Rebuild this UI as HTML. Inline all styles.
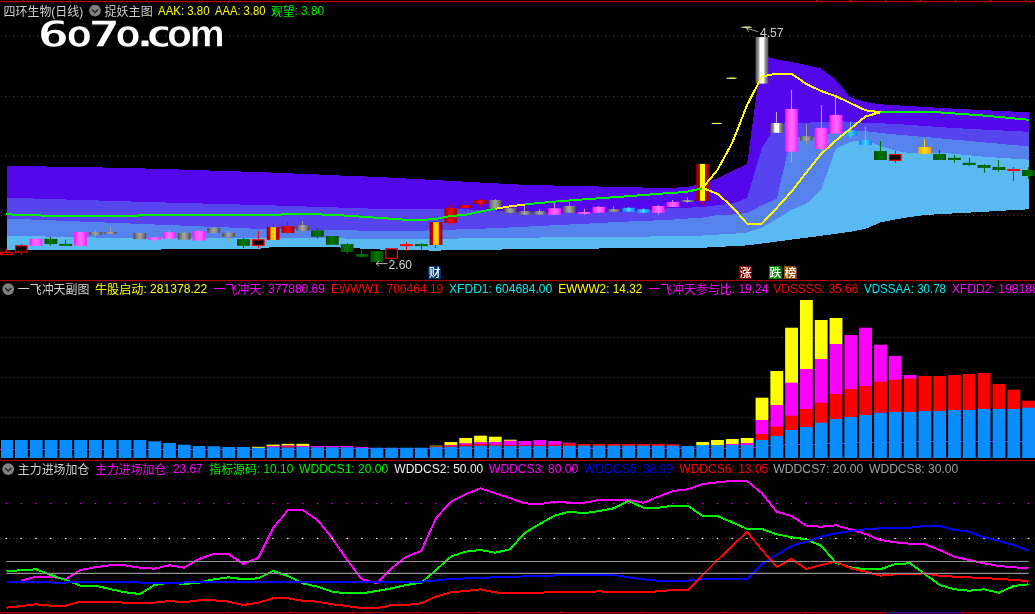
<!DOCTYPE html>
<html lang="zh"><head><meta charset="utf-8"><title>四环生物(日线)</title>
<style>html,body{margin:0;padding:0;background:#000;overflow:hidden}svg{display:block}</style>
</head><body>
<svg width="1035" height="614" viewBox="0 0 1035 614">
<defs>
<linearGradient id="gm" x1="0" x2="1" y1="0" y2="0"><stop offset="0" stop-color="#fa10fa"/><stop offset=".3" stop-color="#ff58ff"/><stop offset=".5" stop-color="#ff6cff"/><stop offset=".7" stop-color="#ff58ff"/><stop offset="1" stop-color="#fa18fa"/></linearGradient>
<linearGradient id="gy" x1="0" x2="1" y1="0" y2="0"><stop offset="0" stop-color="#4c4c4c"/><stop offset=".3" stop-color="#8c8c8c"/><stop offset=".5" stop-color="#a4a4a4"/><stop offset=".7" stop-color="#8c8c8c"/><stop offset="1" stop-color="#4c4c4c"/></linearGradient>
<linearGradient id="gg" x1="0" x2="1" y1="0" y2="0"><stop offset="0" stop-color="#004c00"/><stop offset=".3" stop-color="#006a00"/><stop offset=".5" stop-color="#007400"/><stop offset=".7" stop-color="#006a00"/><stop offset="1" stop-color="#004c00"/></linearGradient>
<linearGradient id="gr" x1="0" x2="1" y1="0" y2="0"><stop offset="0" stop-color="#9c0000"/><stop offset=".3" stop-color="#d40808"/><stop offset=".5" stop-color="#e81010"/><stop offset=".7" stop-color="#d40808"/><stop offset="1" stop-color="#9c0000"/></linearGradient>
<linearGradient id="gc" x1="0" x2="1" y1="0" y2="0"><stop offset="0" stop-color="#0a80ff"/><stop offset=".3" stop-color="#30b0ff"/><stop offset=".5" stop-color="#40d8ff"/><stop offset=".7" stop-color="#30b0ff"/><stop offset="1" stop-color="#0a80ff"/></linearGradient>
<linearGradient id="gw" x1="0" x2="1" y1="0" y2="0"><stop offset="0" stop-color="#505050"/><stop offset=".28" stop-color="#a8a8a8"/><stop offset=".34" stop-color="#ffffff"/><stop offset=".66" stop-color="#ffffff"/><stop offset=".72" stop-color="#a8a8a8"/><stop offset="1" stop-color="#505050"/></linearGradient>
<linearGradient id="go" x1="0" x2="1" y1="0" y2="0"><stop offset="0" stop-color="#ff9800"/><stop offset=".35" stop-color="#ffd000"/><stop offset=".5" stop-color="#ffe400"/><stop offset=".65" stop-color="#ffd000"/><stop offset="1" stop-color="#ff9800"/></linearGradient>
<linearGradient id="gro" x1="0" x2="1" y1="0" y2="0"><stop offset="0" stop-color="#960000"/><stop offset=".28" stop-color="#c80000"/><stop offset=".31" stop-color="#ffcc00"/><stop offset=".69" stop-color="#ffcc00"/><stop offset=".72" stop-color="#c80000"/><stop offset="1" stop-color="#960000"/></linearGradient>
<linearGradient id="gry" x1="0" x2="1" y1="0" y2="0"><stop offset="0" stop-color="#960000"/><stop offset=".28" stop-color="#c00000"/><stop offset=".31" stop-color="#ffff00"/><stop offset=".69" stop-color="#ffff00"/><stop offset=".72" stop-color="#c00000"/><stop offset="1" stop-color="#960000"/></linearGradient>
</defs>
<rect width="1035" height="614" fill="#000"/>
<line x1="1.00" y1="36.5" x2="1035.0" y2="36.5" stroke="#c80000" stroke-width="1.0" stroke-dasharray="1.1 2.90"/>
<line x1="1.00" y1="96.5" x2="1035.0" y2="96.5" stroke="#c80000" stroke-width="1.0" stroke-dasharray="1.1 2.90"/>
<line x1="1.00" y1="155.5" x2="1035.0" y2="155.5" stroke="#c80000" stroke-width="1.0" stroke-dasharray="1.1 2.90"/>
<line x1="1.00" y1="215.5" x2="1035.0" y2="215.5" stroke="#c80000" stroke-width="1.0" stroke-dasharray="1.1 2.90"/>
<line x1="1.00" y1="337.5" x2="1035.0" y2="337.5" stroke="#c80000" stroke-width="1.0" stroke-dasharray="1.1 2.90"/>
<line x1="1.00" y1="377.5" x2="1035.0" y2="377.5" stroke="#c80000" stroke-width="1.0" stroke-dasharray="1.1 2.90"/>
<line x1="1.00" y1="417.5" x2="1035.0" y2="417.5" stroke="#c80000" stroke-width="1.0" stroke-dasharray="1.1 2.90"/>
<line x1="1.00" y1="538.5" x2="1035.0" y2="538.5" stroke="#c80000" stroke-width="1.0" stroke-dasharray="1.1 2.90"/>
<polygon shape-rendering="crispEdges" fill="#5507ec" points="6.5,165.8 21.3,166.1 36.1,166.3 50.9,166.6 65.7,166.9 80.5,167.1 95.3,167.4 110.1,167.6 124.9,167.9 139.8,168.3 154.6,168.8 169.4,169.2 184.2,169.7 199.0,170.2 213.8,170.6 228.6,171.1 243.4,171.6 258.3,172.0 273.1,172.7 287.9,173.3 302.7,173.9 317.5,174.5 332.3,175.2 347.1,175.8 361.9,176.4 376.8,177.0 391.6,177.7 406.4,178.5 421.2,179.3 436.0,180.1 450.8,180.9 465.6,181.7 480.4,182.5 495.2,183.3 510.1,184.2 524.9,184.8 539.7,185.2 554.5,185.5 569.3,185.8 584.1,186.2 598.9,186.5 613.7,186.9 628.6,187.2 643.4,187.5 658.2,187.8 673.0,187.9 687.8,186.7 702.6,184.0 717.4,178.3 732.2,171.0 747.1,164.0 761.9,55.0 776.7,59.5 791.5,62.0 806.3,65.0 821.1,68.5 835.9,80.0 850.7,97.5 865.5,102.0 880.4,104.3 895.2,105.2 910.0,106.1 924.8,107.0 939.6,107.8 954.4,108.7 969.2,109.4 984.0,110.2 998.9,110.9 1013.7,111.6 1028.5,112.4 1028.5,209.3 1013.7,210.1 998.9,210.9 984.0,211.8 969.2,212.6 954.4,213.4 939.6,214.2 924.8,215.0 910.0,217.0 895.2,219.5 880.4,222.4 865.5,228.9 850.7,231.8 835.9,233.8 821.1,235.8 806.3,237.7 791.5,239.6 776.7,241.6 761.9,243.5 747.1,245.4 732.2,246.2 717.4,247.0 702.6,247.7 687.8,248.4 673.0,248.2 658.2,248.1 643.4,248.1 628.6,248.2 613.7,248.3 598.9,248.5 584.1,248.6 569.3,248.7 554.5,248.9 539.7,249.0 524.9,249.2 510.1,249.4 495.2,249.6 480.4,249.9 465.6,250.1 450.8,250.3 436.0,250.6 421.2,250.4 406.4,250.1 391.6,249.9 376.8,249.4 361.9,248.6 347.1,247.8 332.3,247.2 317.5,247.1 302.7,247.1 287.9,247.1 273.1,247.0 258.3,248.8 243.4,248.8 228.6,248.9 213.8,249.0 199.0,249.2 184.2,249.3 169.4,249.4 154.6,249.6 139.8,249.7 124.9,249.8 110.1,249.8 95.3,249.7 80.5,249.7 65.7,249.6 50.9,249.6 36.1,249.6 21.3,249.5 6.5,249.5"/>
<polygon shape-rendering="crispEdges" fill="#5644ee" points="6.5,197.7 21.3,198.2 36.1,198.6 50.9,199.1 65.7,199.5 80.5,200.0 95.3,200.4 110.1,200.9 124.9,201.3 139.8,201.8 154.6,202.2 169.4,202.6 184.2,203.0 199.0,203.4 213.8,203.8 228.6,204.2 243.4,204.6 258.3,205.0 273.1,205.4 287.9,205.9 302.7,206.4 317.5,206.9 332.3,207.3 347.1,207.8 361.9,208.3 376.8,208.8 391.6,209.2 406.4,208.8 421.2,208.5 436.0,208.5 450.8,209.0 465.6,209.4 480.4,209.9 495.2,210.5 510.1,211.4 524.9,212.2 539.7,212.7 554.5,213.0 569.3,213.3 584.1,213.2 598.9,212.7 613.7,212.3 628.6,211.4 643.4,210.2 658.2,209.0 673.0,208.1 687.8,207.7 702.6,207.0 717.4,205.2 732.2,203.6 747.1,198.2 761.9,148.0 776.7,124.0 791.5,123.0 806.3,122.6 821.1,122.2 835.9,121.0 850.7,121.8 865.5,122.8 880.4,123.3 895.2,123.9 910.0,124.9 924.8,126.0 939.6,127.1 954.4,128.1 969.2,128.8 984.0,129.6 998.9,130.3 1013.7,131.0 1028.5,131.8 1028.5,209.3 1013.7,210.1 998.9,210.9 984.0,211.8 969.2,212.6 954.4,213.4 939.6,214.2 924.8,215.0 910.0,217.0 895.2,219.5 880.4,222.4 865.5,228.9 850.7,231.8 835.9,233.8 821.1,235.8 806.3,237.7 791.5,239.6 776.7,241.6 761.9,243.5 747.1,245.4 732.2,246.2 717.4,247.0 702.6,247.7 687.8,248.4 673.0,248.2 658.2,248.1 643.4,248.1 628.6,248.2 613.7,248.3 598.9,248.5 584.1,248.6 569.3,248.7 554.5,248.9 539.7,249.0 524.9,249.2 510.1,249.4 495.2,249.6 480.4,249.9 465.6,250.1 450.8,250.3 436.0,250.6 421.2,250.4 406.4,250.1 391.6,249.9 376.8,249.4 361.9,248.6 347.1,247.8 332.3,247.2 317.5,247.1 302.7,247.1 287.9,247.1 273.1,247.0 258.3,248.8 243.4,248.8 228.6,248.9 213.8,249.0 199.0,249.2 184.2,249.3 169.4,249.4 154.6,249.6 139.8,249.7 124.9,249.8 110.1,249.8 95.3,249.7 80.5,249.7 65.7,249.6 50.9,249.6 36.1,249.6 21.3,249.5 6.5,249.5"/>
<polygon shape-rendering="crispEdges" fill="#5682ee" points="6.5,218.5 21.3,219.1 36.1,219.7 50.9,220.3 65.7,220.9 80.5,221.5 95.3,222.1 110.1,222.7 124.9,223.3 139.8,223.9 154.6,224.5 169.4,225.1 184.2,225.7 199.0,226.3 213.8,226.9 228.6,227.5 243.4,228.2 258.3,228.9 273.1,229.3 287.9,229.4 302.7,229.5 317.5,229.7 332.3,229.8 347.1,230.2 361.9,230.6 376.8,231.0 391.6,230.9 406.4,230.8 421.2,230.7 436.0,230.2 450.8,229.7 465.6,229.2 480.4,228.7 495.2,228.2 510.1,227.4 524.9,226.7 539.7,226.0 554.5,225.3 569.3,224.5 584.1,223.8 598.9,223.0 613.7,222.2 628.6,221.5 643.4,220.9 658.2,220.3 673.0,219.6 687.8,218.5 702.6,217.5 717.4,215.2 732.2,214.5 747.1,213.0 761.9,205.2 776.7,199.0 791.5,135.5 806.3,138.5 821.1,135.5 835.9,132.5 850.7,130.8 865.5,131.0 880.4,133.0 895.2,134.4 910.0,135.7 924.8,137.0 939.6,138.3 954.4,139.7 969.2,141.0 984.0,142.4 998.9,143.7 1013.7,145.1 1028.5,146.5 1028.5,209.3 1013.7,210.1 998.9,210.9 984.0,211.8 969.2,212.6 954.4,213.4 939.6,214.2 924.8,215.0 910.0,217.0 895.2,219.5 880.4,222.4 865.5,228.9 850.7,231.8 835.9,233.8 821.1,235.8 806.3,237.7 791.5,239.6 776.7,241.6 761.9,243.5 747.1,245.4 732.2,246.2 717.4,247.0 702.6,247.7 687.8,248.4 673.0,248.2 658.2,248.1 643.4,248.1 628.6,248.2 613.7,248.3 598.9,248.5 584.1,248.6 569.3,248.7 554.5,248.9 539.7,249.0 524.9,249.2 510.1,249.4 495.2,249.6 480.4,249.9 465.6,250.1 450.8,250.3 436.0,250.6 421.2,250.4 406.4,250.1 391.6,249.9 376.8,249.4 361.9,248.6 347.1,247.8 332.3,247.2 317.5,247.1 302.7,247.1 287.9,247.1 273.1,247.0 258.3,248.8 243.4,248.8 228.6,248.9 213.8,249.0 199.0,249.2 184.2,249.3 169.4,249.4 154.6,249.6 139.8,249.7 124.9,249.8 110.1,249.8 95.3,249.7 80.5,249.7 65.7,249.6 50.9,249.6 36.1,249.6 21.3,249.5 6.5,249.5"/>
<polygon shape-rendering="crispEdges" fill="#58baf0" points="6.5,235.7 21.3,236.0 36.1,236.3 50.9,236.6 65.7,236.9 80.5,237.2 95.3,237.5 110.1,237.8 124.9,238.1 139.8,238.2 154.6,238.2 169.4,238.3 184.2,238.3 199.0,238.3 213.8,238.3 228.6,238.4 243.4,238.4 258.3,238.4 273.1,238.3 287.9,238.2 302.7,238.2 317.5,238.1 332.3,238.0 347.1,238.6 361.9,239.3 376.8,239.2 391.6,239.1 406.4,239.0 421.2,238.9 436.0,238.7 450.8,238.6 465.6,238.4 480.4,238.3 495.2,238.1 510.1,237.9 524.9,237.7 539.7,237.5 554.5,237.3 569.3,237.1 584.1,237.0 598.9,236.9 613.7,236.8 628.6,236.7 643.4,236.6 658.2,236.4 673.0,236.3 687.8,236.0 702.6,235.5 717.4,234.6 732.2,233.8 747.1,232.6 761.9,227.6 776.7,219.0 791.5,209.8 806.3,203.6 821.1,189.7 835.9,148.5 850.7,141.8 865.5,139.8 880.4,146.0 895.2,150.5 910.0,153.3 924.8,153.4 939.6,152.8 954.4,153.7 969.2,155.2 984.0,156.7 998.9,157.7 1013.7,158.7 1028.5,159.7 1028.5,209.3 1013.7,210.1 998.9,210.9 984.0,211.8 969.2,212.6 954.4,213.4 939.6,214.2 924.8,215.0 910.0,217.0 895.2,219.5 880.4,222.4 865.5,228.9 850.7,231.8 835.9,233.8 821.1,235.8 806.3,237.7 791.5,239.6 776.7,241.6 761.9,243.5 747.1,245.4 732.2,246.2 717.4,247.0 702.6,247.7 687.8,248.4 673.0,248.2 658.2,248.1 643.4,248.1 628.6,248.2 613.7,248.3 598.9,248.5 584.1,248.6 569.3,248.7 554.5,248.9 539.7,249.0 524.9,249.2 510.1,249.4 495.2,249.6 480.4,249.9 465.6,250.1 450.8,250.3 436.0,250.6 421.2,250.4 406.4,250.1 391.6,249.9 376.8,249.4 361.9,248.6 347.1,247.8 332.3,247.2 317.5,247.1 302.7,247.1 287.9,247.1 273.1,247.0 258.3,248.8 243.4,248.8 228.6,248.9 213.8,249.0 199.0,249.2 184.2,249.3 169.4,249.4 154.6,249.6 139.8,249.7 124.9,249.8 110.1,249.8 95.3,249.7 80.5,249.7 65.7,249.6 50.9,249.6 36.1,249.6 21.3,249.5 6.5,249.5"/>
<line x1="6.5" y1="249.0" x2="6.5" y2="251.7" stroke="#f00" stroke-width="1.1"/>
<line x1="6.5" y1="255.1" x2="6.5" y2="255.1" stroke="#f00" stroke-width="1.1"/>
<rect x="0.6" y="252.3" width="11.6" height="2.2" fill="#000" stroke="#f00" stroke-width="1.2"/>
<line x1="21.5" y1="243.9" x2="21.5" y2="245.2" stroke="#f00" stroke-width="1.1"/>
<line x1="21.5" y1="252.7" x2="21.5" y2="255.0" stroke="#f00" stroke-width="1.1"/>
<rect x="15.5" y="245.8" width="11.6" height="6.3" fill="#000" stroke="#f00" stroke-width="1.2"/>
<line x1="36.5" y1="236.4" x2="36.5" y2="245.8" stroke="#d088ff" stroke-width="1.1"/>
<rect x="29.7" y="238.9" width="12.8" height="6.9" fill="url(#gm)"/>
<line x1="50.5" y1="237.0" x2="50.5" y2="245.8" stroke="#007000" stroke-width="1.1"/>
<rect x="44.5" y="238.9" width="12.8" height="5.2" fill="url(#gg)"/>
<line x1="65.5" y1="239.9" x2="65.5" y2="245.8" stroke="#007000" stroke-width="1.1"/>
<rect x="59.3" y="243.9" width="12.8" height="1.9" fill="url(#gg)"/>
<rect x="74.1" y="232.0" width="12.8" height="13.8" fill="url(#gm)"/>
<line x1="95.5" y1="229.8" x2="95.5" y2="237.0" stroke="#9a9a9a" stroke-width="1.1"/>
<rect x="88.9" y="232.0" width="12.8" height="3.1" fill="url(#gy)"/>
<line x1="110.5" y1="226.9" x2="110.5" y2="234.1" stroke="#9a9a9a" stroke-width="1.1"/>
<rect x="103.7" y="232.0" width="12.8" height="2.1" fill="url(#gy)"/>
<line x1="139.5" y1="231.7" x2="139.5" y2="240.0" stroke="#9a9a9a" stroke-width="1.1"/>
<rect x="133.4" y="232.9" width="12.8" height="6.3" fill="url(#gy)"/>
<line x1="154.5" y1="236.8" x2="154.5" y2="242.5" stroke="#d088ff" stroke-width="1.1"/>
<rect x="148.2" y="237.4" width="12.8" height="2.3" fill="url(#gm)"/>
<line x1="169.5" y1="230.4" x2="169.5" y2="238.7" stroke="#d088ff" stroke-width="1.1"/>
<rect x="163.0" y="232.2" width="12.8" height="6.5" fill="url(#gm)"/>
<line x1="184.5" y1="231.2" x2="184.5" y2="239.7" stroke="#9a9a9a" stroke-width="1.1"/>
<rect x="177.8" y="232.9" width="12.8" height="6.8" fill="url(#gy)"/>
<line x1="199.5" y1="229.9" x2="199.5" y2="240.5" stroke="#d088ff" stroke-width="1.1"/>
<rect x="192.6" y="230.9" width="12.8" height="9.6" fill="url(#gm)"/>
<line x1="213.5" y1="226.9" x2="213.5" y2="233.4" stroke="#9a9a9a" stroke-width="1.1"/>
<rect x="207.4" y="227.9" width="12.8" height="5.0" fill="url(#gy)"/>
<line x1="228.5" y1="231.0" x2="228.5" y2="241.7" stroke="#9a9a9a" stroke-width="1.1"/>
<rect x="222.2" y="232.9" width="12.8" height="4.0" fill="url(#gy)"/>
<line x1="243.5" y1="238.0" x2="243.5" y2="247.9" stroke="#007000" stroke-width="1.1"/>
<rect x="237.0" y="239.2" width="12.8" height="6.6" fill="url(#gg)"/>
<line x1="258.5" y1="231.2" x2="258.5" y2="239.2" stroke="#f00" stroke-width="1.1"/>
<line x1="258.5" y1="245.9" x2="258.5" y2="247.9" stroke="#f00" stroke-width="1.1"/>
<rect x="252.5" y="239.8" width="11.6" height="5.5" fill="#000" stroke="#f00" stroke-width="1.2"/>
<line x1="273.5" y1="224.2" x2="273.5" y2="239.9" stroke="#e00000" stroke-width="1.1"/>
<rect x="266.7" y="227.1" width="12.8" height="12.8" fill="url(#gro)"/>
<line x1="287.5" y1="222.1" x2="287.5" y2="233.4" stroke="#e00000" stroke-width="1.1"/>
<rect x="281.5" y="226.1" width="12.8" height="6.8" fill="url(#gr)"/>
<line x1="302.5" y1="221.0" x2="302.5" y2="232.9" stroke="#9a9a9a" stroke-width="1.1"/>
<rect x="296.3" y="225.1" width="12.8" height="5.6" fill="url(#gy)"/>
<line x1="317.5" y1="228.0" x2="317.5" y2="238.7" stroke="#007000" stroke-width="1.1"/>
<rect x="311.1" y="230.3" width="12.8" height="6.4" fill="url(#gg)"/>
<rect x="325.9" y="236.1" width="12.8" height="8.7" fill="url(#gg)"/>
<line x1="347.5" y1="242.9" x2="347.5" y2="253.8" stroke="#007000" stroke-width="1.1"/>
<rect x="340.7" y="244.1" width="12.8" height="7.8" fill="url(#gg)"/>
<line x1="361.5" y1="249.2" x2="361.5" y2="256.9" stroke="#007000" stroke-width="1.1"/>
<rect x="355.5" y="254.0" width="12.8" height="2.9" fill="url(#gg)"/>
<rect x="370.4" y="251.1" width="12.8" height="10.8" fill="url(#gg)"/>
<line x1="391.5" y1="248.2" x2="391.5" y2="248.2" stroke="#f00" stroke-width="1.1"/>
<line x1="391.5" y1="258.8" x2="391.5" y2="259.8" stroke="#f00" stroke-width="1.1"/>
<rect x="385.8" y="248.8" width="11.6" height="9.4" fill="#000" stroke="#f00" stroke-width="1.2"/>
<line x1="406.5" y1="242.2" x2="406.5" y2="250.9" stroke="#ff0000" stroke-width="1.1"/>
<rect x="400.0" y="244.1" width="12.8" height="2.0" fill="#ff0000"/>
<line x1="421.5" y1="243.2" x2="421.5" y2="249.6" stroke="#007000" stroke-width="1.1"/>
<rect x="414.8" y="244.1" width="12.8" height="2.0" fill="url(#gg)"/>
<line x1="435.5" y1="221.5" x2="435.5" y2="248.0" stroke="#e00000" stroke-width="1.1"/>
<rect x="429.6" y="222.0" width="12.8" height="23.0" fill="url(#gro)"/>
<line x1="450.5" y1="205.0" x2="450.5" y2="225.0" stroke="#e00000" stroke-width="1.1"/>
<rect x="444.4" y="208.0" width="12.8" height="15.0" fill="url(#gr)"/>
<line x1="465.5" y1="200.9" x2="465.5" y2="211.0" stroke="#e00000" stroke-width="1.1"/>
<rect x="459.2" y="205.0" width="12.8" height="3.0" fill="url(#gr)"/>
<line x1="480.5" y1="199.0" x2="480.5" y2="207.0" stroke="#e00000" stroke-width="1.1"/>
<rect x="474.0" y="200.0" width="12.8" height="4.0" fill="url(#gr)"/>
<line x1="495.5" y1="199.0" x2="495.5" y2="208.5" stroke="#9a9a9a" stroke-width="1.1"/>
<rect x="488.8" y="200.0" width="12.8" height="8.5" fill="url(#gy)"/>
<line x1="510.5" y1="207.3" x2="510.5" y2="213.6" stroke="#9a9a9a" stroke-width="1.1"/>
<rect x="503.7" y="208.2" width="12.8" height="4.6" fill="url(#gy)"/>
<line x1="524.5" y1="205.6" x2="524.5" y2="214.7" stroke="#9a9a9a" stroke-width="1.1"/>
<rect x="518.5" y="211.1" width="12.8" height="3.6" fill="url(#gy)"/>
<line x1="539.5" y1="209.1" x2="539.5" y2="214.7" stroke="#9a9a9a" stroke-width="1.1"/>
<rect x="533.3" y="211.1" width="12.8" height="3.6" fill="url(#gy)"/>
<line x1="554.5" y1="202.3" x2="554.5" y2="214.7" stroke="#d088ff" stroke-width="1.1"/>
<rect x="548.1" y="208.2" width="12.8" height="6.5" fill="url(#gm)"/>
<line x1="569.5" y1="201.7" x2="569.5" y2="212.8" stroke="#9a9a9a" stroke-width="1.1"/>
<rect x="562.9" y="206.0" width="12.8" height="6.8" fill="url(#gy)"/>
<line x1="584.5" y1="208.6" x2="584.5" y2="214.7" stroke="#d088ff" stroke-width="1.1"/>
<rect x="577.7" y="212.0" width="12.8" height="1.9" fill="url(#gm)"/>
<line x1="598.5" y1="206.0" x2="598.5" y2="212.8" stroke="#d088ff" stroke-width="1.1"/>
<rect x="592.5" y="206.9" width="12.8" height="5.9" fill="url(#gm)"/>
<line x1="613.5" y1="206.3" x2="613.5" y2="211.8" stroke="#9a9a9a" stroke-width="1.1"/>
<rect x="607.3" y="209.1" width="12.8" height="2.7" fill="url(#gy)"/>
<line x1="628.5" y1="207.0" x2="628.5" y2="211.8" stroke="#40c8ff" stroke-width="1.1"/>
<rect x="622.2" y="207.8" width="12.8" height="4.0" fill="url(#gc)"/>
<line x1="643.5" y1="208.3" x2="643.5" y2="213.2" stroke="#40c8ff" stroke-width="1.1"/>
<rect x="637.0" y="209.1" width="12.8" height="3.7" fill="url(#gc)"/>
<line x1="658.5" y1="205.0" x2="658.5" y2="214.7" stroke="#d088ff" stroke-width="1.1"/>
<rect x="651.8" y="206.0" width="12.8" height="6.8" fill="url(#gm)"/>
<line x1="672.5" y1="200.0" x2="672.5" y2="206.9" stroke="#d088ff" stroke-width="1.1"/>
<rect x="666.6" y="202.0" width="12.8" height="4.9" fill="url(#gm)"/>
<line x1="687.5" y1="197.1" x2="687.5" y2="203.0" stroke="#9a9a9a" stroke-width="1.1"/>
<rect x="681.4" y="200.0" width="12.8" height="2.0" fill="url(#gy)"/>
<line x1="702.5" y1="163.9" x2="702.5" y2="205.0" stroke="#e00000" stroke-width="1.1"/>
<rect x="696.2" y="163.9" width="12.8" height="36.9" fill="url(#gry)"/>
<rect x="755.5" y="37.1" width="12.8" height="46.5" fill="url(#gw)"/>
<line x1="776.5" y1="112.0" x2="776.5" y2="132.8" stroke="#b0b0b0" stroke-width="1.1"/>
<rect x="770.3" y="123.0" width="12.8" height="9.8" fill="url(#gw)"/>
<line x1="791.5" y1="90.0" x2="791.5" y2="162.5" stroke="#d088ff" stroke-width="1.1"/>
<rect x="785.1" y="108.9" width="12.8" height="42.8" fill="url(#gm)"/>
<line x1="806.5" y1="124.2" x2="806.5" y2="144.6" stroke="#9a9a9a" stroke-width="1.1"/>
<rect x="799.9" y="136.2" width="12.8" height="4.6" fill="url(#gy)"/>
<line x1="821.5" y1="105.1" x2="821.5" y2="151.5" stroke="#d088ff" stroke-width="1.1"/>
<rect x="814.7" y="127.9" width="12.8" height="21.1" fill="url(#gm)"/>
<line x1="835.5" y1="97.0" x2="835.5" y2="133.6" stroke="#d088ff" stroke-width="1.1"/>
<rect x="829.5" y="114.9" width="12.8" height="18.7" fill="url(#gm)"/>
<line x1="850.5" y1="121.7" x2="850.5" y2="138.0" stroke="#40c8ff" stroke-width="1.1"/>
<rect x="844.3" y="130.2" width="12.8" height="5.6" fill="url(#gc)"/>
<line x1="865.5" y1="127.0" x2="865.5" y2="146.8" stroke="#40c8ff" stroke-width="1.1"/>
<rect x="859.1" y="140.0" width="12.8" height="5.2" fill="url(#gc)"/>
<line x1="880.5" y1="141.0" x2="880.5" y2="160.0" stroke="#007000" stroke-width="1.1"/>
<rect x="874.0" y="151.1" width="12.8" height="8.9" fill="url(#gg)"/>
<line x1="895.5" y1="151.1" x2="895.5" y2="154.0" stroke="#f00" stroke-width="1.1"/>
<line x1="895.5" y1="160.9" x2="895.5" y2="162.8" stroke="#f00" stroke-width="1.1"/>
<rect x="889.4" y="154.6" width="11.6" height="5.7" fill="#000" stroke="#f00" stroke-width="1.2"/>
<line x1="924.5" y1="139.2" x2="924.5" y2="153.8" stroke="#ffd000" stroke-width="1.1"/>
<rect x="918.4" y="147.0" width="12.8" height="6.8" fill="url(#go)"/>
<line x1="939.5" y1="150.0" x2="939.5" y2="160.0" stroke="#007000" stroke-width="1.1"/>
<rect x="933.2" y="154.0" width="12.8" height="6.0" fill="url(#gg)"/>
<line x1="954.5" y1="155.0" x2="954.5" y2="162.8" stroke="#007000" stroke-width="1.1"/>
<rect x="948.0" y="157.8" width="12.8" height="2.2" fill="url(#gg)"/>
<line x1="969.5" y1="158.0" x2="969.5" y2="165.9" stroke="#007000" stroke-width="1.1"/>
<rect x="962.8" y="162.8" width="12.8" height="2.2" fill="url(#gg)"/>
<line x1="984.5" y1="164.0" x2="984.5" y2="172.8" stroke="#007000" stroke-width="1.1"/>
<rect x="977.6" y="165.0" width="12.8" height="2.9" fill="url(#gg)"/>
<line x1="998.5" y1="160.0" x2="998.5" y2="172.0" stroke="#007000" stroke-width="1.1"/>
<rect x="992.5" y="167.0" width="12.8" height="3.0" fill="url(#gg)"/>
<line x1="1013.5" y1="167.0" x2="1013.5" y2="180.9" stroke="#ff0000" stroke-width="1.1"/>
<rect x="1007.3" y="169.0" width="12.8" height="2.0" fill="#ff0000"/>
<line x1="1028.5" y1="167.0" x2="1028.5" y2="179.0" stroke="#007000" stroke-width="1.1"/>
<rect x="1022.1" y="170.0" width="12.8" height="6.0" fill="url(#gg)"/>
<line x1="711.8" y1="123.4" x2="721.8" y2="123.4" stroke="#fff" stroke-width="1"/>
<line x1="714.6" y1="123.4" x2="719.8" y2="123.4" stroke="#ff0" stroke-width="1"/>
<line x1="726.6" y1="78.2" x2="736.6" y2="78.2" stroke="#fff" stroke-width="1"/>
<line x1="729.4" y1="78.2" x2="734.6" y2="78.2" stroke="#ff0" stroke-width="1"/>
<line x1="741.5" y1="27.2" x2="751.5" y2="27.2" stroke="#fff" stroke-width="1"/>
<line x1="744.3" y1="27.2" x2="749.5" y2="27.2" stroke="#ff0" stroke-width="1"/>
<polyline shape-rendering="crispEdges" fill="none" stroke="#00f000" stroke-width="2.0" stroke-linejoin="round"  points="6.3,214.3 21.0,214.8 50.0,215.8 138.0,215.8 140.0,214.6 260.0,215.0 302.7,214.0 333.0,214.8 360.5,216.6 406.2,219.8 421.0,220.0 435.8,219.0 450.6,216.0 465.4,214.8 480.2,211.7 495.4,208.7"/>
<polyline shape-rendering="crispEdges" fill="none" stroke="#00f000" stroke-width="2.0" stroke-linejoin="round"  points="524.6,204.4 553.8,201.7 583.8,199.4 620.0,196.8 657.7,193.9 686.4,191.9 702.4,188.3"/>
<polyline shape-rendering="crispEdges" fill="none" stroke="#00f000" stroke-width="2.0" stroke-linejoin="round"  points="880.1,112.2 937.0,112.2 983.4,115.5 1029.0,119.8"/>
<polyline shape-rendering="crispEdges" fill="none" stroke="#ffe830" stroke-width="2.0" stroke-linejoin="round"  points="495.4,208.7 509.8,206.4 524.6,204.6"/>
<polyline shape-rendering="crispEdges" fill="none" stroke="#ffff00" stroke-width="2.0" stroke-linejoin="round"  points="702.6,188.0 717.4,170.0 732.2,143.0 747.1,105.0 761.9,76.5 776.7,73.7 791.5,73.7 806.3,84.0 821.1,91.0 835.9,96.2 850.7,103.3 865.5,110.3 880.4,112.3"/>
<polyline shape-rendering="crispEdges" fill="none" stroke="#ffff00" stroke-width="2.0" stroke-linejoin="round"  points="702.6,188.0 717.4,193.8 732.2,206.8 747.1,223.7 761.9,223.7 776.7,208.0 791.5,191.5 806.3,172.5 821.1,154.0 835.9,140.5 850.7,128.5 865.5,116.5 880.4,112.3"/>
<path d="M746.6 28.2 L757.8 31.7 M746.6 28.2 l3.4 -1.2 M746.6 28.2 l2 3.6" stroke="#c8c8c8" stroke-width=".8" fill="none"/>
<text x="760" y="37.3" fill="#d0d0d0" font-family="Liberation Sans, Noto Sans CJK SC, sans-serif" font-size="12.2" textLength="23.5" lengthAdjust="spacingAndGlyphs">4.57</text>
<path d="M376 263.6 H387.6 M376 263.6 l3.2 -2.6 M376 263.6 l3.2 2.6" stroke="#c8c8c8" stroke-width=".9" fill="none"/>
<text x="388.6" y="269" fill="#d0d0d0" font-family="Liberation Sans, Noto Sans CJK SC, sans-serif" font-size="12.2" textLength="23.5" lengthAdjust="spacingAndGlyphs">2.60</text>
<path d="M428.2 266.0 h10.8 l2 2 v10.9 h-12.8 z" fill="#003478"/>
<text x="434.6" y="276.8" fill="#fff" font-family="Liberation Sans, Noto Sans CJK SC, sans-serif" font-weight="500" font-size="11.8" text-anchor="middle">财</text>
<path d="M739.1 266.0 h10.9 l2 2 v10.9 h-12.9 z" fill="#840000"/>
<text x="745.6" y="276.8" fill="#fff" font-family="Liberation Sans, Noto Sans CJK SC, sans-serif" font-weight="500" font-size="11.8" text-anchor="middle">涨</text>
<path d="M769.0 266.0 h10.9 l2 2 v10.9 h-12.9 z" fill="#008400"/>
<text x="775.5" y="276.8" fill="#fff" font-family="Liberation Sans, Noto Sans CJK SC, sans-serif" font-weight="500" font-size="11.8" text-anchor="middle">跌</text>
<path d="M783.9 266.0 h10.9 l2 2 v10.9 h-12.9 z" fill="#9a5008"/>
<text x="790.4" y="276.8" fill="#fff" font-family="Liberation Sans, Noto Sans CJK SC, sans-serif" font-weight="500" font-size="11.8" text-anchor="middle">榜</text>
<polyline shape-rendering="crispEdges" fill="none" stroke="#e000e0" stroke-width="1.0" stroke-linejoin="round"  points="0.0,449.0 330.0,449.0 420.0,448.7 690.0,448.5 747.0,448.4 761.0,446.6 776.0,445.1 800.0,444.8 815.0,444.3 845.0,443.2 875.0,442.5 950.0,441.6 1035.0,441.3"/>
<rect x="1.0" y="440.0" width="12.0" height="18.0" fill="#0a8eff"/>
<rect x="15.0" y="440.0" width="12.8" height="18.0" fill="#0a8eff"/>
<rect x="29.8" y="440.0" width="12.8" height="18.0" fill="#0a8eff"/>
<rect x="44.6" y="440.0" width="12.8" height="18.0" fill="#0a8eff"/>
<rect x="59.4" y="440.0" width="12.8" height="18.0" fill="#0a8eff"/>
<rect x="74.2" y="440.0" width="12.8" height="18.0" fill="#0a8eff"/>
<rect x="89.0" y="440.0" width="12.8" height="18.0" fill="#0a8eff"/>
<rect x="103.8" y="440.0" width="12.8" height="18.0" fill="#0a8eff"/>
<rect x="118.6" y="440.0" width="12.8" height="18.0" fill="#0a8eff"/>
<rect x="133.5" y="440.0" width="12.8" height="18.0" fill="#0a8eff"/>
<rect x="148.3" y="441.3" width="12.8" height="16.7" fill="#0a8eff"/>
<rect x="163.1" y="443.0" width="12.8" height="15.0" fill="#0a8eff"/>
<rect x="177.9" y="444.7" width="12.8" height="13.3" fill="#0a8eff"/>
<rect x="192.7" y="446.0" width="12.8" height="12.0" fill="#0a8eff"/>
<rect x="207.5" y="446.3" width="12.8" height="11.7" fill="#0a8eff"/>
<rect x="222.3" y="447.0" width="12.8" height="11.0" fill="#0a8eff"/>
<rect x="237.1" y="447.0" width="12.8" height="11.0" fill="#0a8eff"/>
<rect x="252.0" y="446.8" width="12.8" height="1.2" fill="#ffff00"/>
<rect x="252.0" y="447.7" width="12.8" height="10.3" fill="#0a8eff"/>
<rect x="266.8" y="444.6" width="12.8" height="1.9" fill="#ffff00"/>
<rect x="266.8" y="446.2" width="12.8" height="1.4" fill="#ff00ff"/>
<rect x="266.8" y="447.3" width="12.8" height="10.7" fill="#0a8eff"/>
<rect x="281.6" y="443.8" width="12.8" height="1.9" fill="#ffff00"/>
<rect x="281.6" y="445.4" width="12.8" height="1.4" fill="#ff00ff"/>
<rect x="281.6" y="446.5" width="12.8" height="1.3" fill="#ff0000"/>
<rect x="281.6" y="447.5" width="12.8" height="10.5" fill="#0a8eff"/>
<rect x="296.4" y="443.8" width="12.8" height="2.3" fill="#ffff00"/>
<rect x="296.4" y="445.8" width="12.8" height="1.5" fill="#ff00ff"/>
<rect x="296.4" y="447.0" width="12.8" height="11.0" fill="#0a8eff"/>
<rect x="311.2" y="446.0" width="12.8" height="1.6" fill="#ff00ff"/>
<rect x="311.2" y="447.3" width="12.8" height="10.7" fill="#0a8eff"/>
<rect x="326.0" y="446.0" width="12.8" height="1.6" fill="#ff00ff"/>
<rect x="326.0" y="447.3" width="12.8" height="10.7" fill="#0a8eff"/>
<rect x="340.8" y="446.0" width="12.8" height="1.6" fill="#ff00ff"/>
<rect x="340.8" y="447.3" width="12.8" height="10.7" fill="#0a8eff"/>
<rect x="355.6" y="447.0" width="12.8" height="1.2" fill="#ff00ff"/>
<rect x="355.6" y="447.9" width="12.8" height="10.1" fill="#0a8eff"/>
<rect x="370.4" y="447.7" width="12.8" height="10.3" fill="#0a8eff"/>
<rect x="385.3" y="447.7" width="12.8" height="10.3" fill="#0a8eff"/>
<rect x="400.1" y="447.7" width="12.8" height="10.3" fill="#0a8eff"/>
<rect x="414.9" y="447.7" width="12.8" height="10.3" fill="#0a8eff"/>
<rect x="429.7" y="445.7" width="12.8" height="0.9" fill="#ffff00"/>
<rect x="429.7" y="446.3" width="12.8" height="1.0" fill="#ff0000"/>
<rect x="429.7" y="447.0" width="12.8" height="11.0" fill="#0a8eff"/>
<rect x="444.5" y="442.0" width="12.8" height="3.5" fill="#ffff00"/>
<rect x="444.5" y="445.2" width="12.8" height="0.9" fill="#ff00ff"/>
<rect x="444.5" y="445.8" width="12.8" height="1.2" fill="#ff0000"/>
<rect x="444.5" y="446.7" width="12.8" height="11.3" fill="#0a8eff"/>
<rect x="459.3" y="438.0" width="12.8" height="5.6" fill="#ffff00"/>
<rect x="459.3" y="443.3" width="12.8" height="1.7" fill="#ff00ff"/>
<rect x="459.3" y="444.7" width="12.8" height="1.9" fill="#ff0000"/>
<rect x="459.3" y="446.3" width="12.8" height="11.7" fill="#0a8eff"/>
<rect x="474.1" y="435.7" width="12.8" height="6.9" fill="#ffff00"/>
<rect x="474.1" y="442.3" width="12.8" height="2.0" fill="#ff00ff"/>
<rect x="474.1" y="444.0" width="12.8" height="2.0" fill="#ff0000"/>
<rect x="474.1" y="445.7" width="12.8" height="12.3" fill="#0a8eff"/>
<rect x="488.9" y="436.7" width="12.8" height="5.6" fill="#ffff00"/>
<rect x="488.9" y="442.0" width="12.8" height="3.0" fill="#ff00ff"/>
<rect x="488.9" y="444.7" width="12.8" height="1.3" fill="#ff0000"/>
<rect x="488.9" y="445.7" width="12.8" height="12.3" fill="#0a8eff"/>
<rect x="503.8" y="439.7" width="12.8" height="1.3" fill="#ffff00"/>
<rect x="503.8" y="440.7" width="12.8" height="4.8" fill="#ff00ff"/>
<rect x="503.8" y="445.2" width="12.8" height="1.1" fill="#ff0000"/>
<rect x="503.8" y="446.0" width="12.8" height="12.0" fill="#0a8eff"/>
<rect x="518.6" y="441.0" width="12.8" height="4.6" fill="#ff00ff"/>
<rect x="518.6" y="445.3" width="12.8" height="1.0" fill="#ff0000"/>
<rect x="518.6" y="446.0" width="12.8" height="12.0" fill="#0a8eff"/>
<rect x="533.4" y="440.0" width="12.8" height="5.3" fill="#ff00ff"/>
<rect x="533.4" y="445.0" width="12.8" height="1.3" fill="#ff0000"/>
<rect x="533.4" y="446.0" width="12.8" height="12.0" fill="#0a8eff"/>
<rect x="548.2" y="441.0" width="12.8" height="4.0" fill="#ff00ff"/>
<rect x="548.2" y="444.7" width="12.8" height="1.6" fill="#ff0000"/>
<rect x="548.2" y="446.0" width="12.8" height="12.0" fill="#0a8eff"/>
<rect x="563.0" y="442.7" width="12.8" height="1.1" fill="#ff00ff"/>
<rect x="563.0" y="443.5" width="12.8" height="2.5" fill="#ff0000"/>
<rect x="563.0" y="445.7" width="12.8" height="12.3" fill="#0a8eff"/>
<rect x="577.8" y="444.0" width="12.8" height="2.0" fill="#ff0000"/>
<rect x="577.8" y="445.7" width="12.8" height="12.3" fill="#0a8eff"/>
<rect x="592.6" y="444.0" width="12.8" height="2.0" fill="#ff0000"/>
<rect x="592.6" y="445.7" width="12.8" height="12.3" fill="#0a8eff"/>
<rect x="607.4" y="444.0" width="12.8" height="2.0" fill="#ff0000"/>
<rect x="607.4" y="445.7" width="12.8" height="12.3" fill="#0a8eff"/>
<rect x="622.3" y="444.0" width="12.8" height="2.0" fill="#ff0000"/>
<rect x="622.3" y="445.7" width="12.8" height="12.3" fill="#0a8eff"/>
<rect x="637.1" y="444.0" width="12.8" height="2.0" fill="#ff0000"/>
<rect x="637.1" y="445.7" width="12.8" height="12.3" fill="#0a8eff"/>
<rect x="651.9" y="444.0" width="12.8" height="2.0" fill="#ff0000"/>
<rect x="651.9" y="445.7" width="12.8" height="12.3" fill="#0a8eff"/>
<rect x="666.7" y="444.3" width="12.8" height="1.7" fill="#ff0000"/>
<rect x="666.7" y="445.7" width="12.8" height="12.3" fill="#0a8eff"/>
<rect x="681.5" y="446.0" width="12.8" height="12.0" fill="#0a8eff"/>
<rect x="696.3" y="442.0" width="12.8" height="3.3" fill="#ffff00"/>
<rect x="696.3" y="445.0" width="12.8" height="13.0" fill="#0a8eff"/>
<rect x="711.1" y="440.0" width="12.8" height="5.5" fill="#ffff00"/>
<rect x="711.1" y="445.2" width="12.8" height="12.8" fill="#0a8eff"/>
<rect x="725.9" y="439.0" width="12.8" height="5.3" fill="#ffff00"/>
<rect x="725.9" y="444.0" width="12.8" height="1.3" fill="#ff00ff"/>
<rect x="725.9" y="445.0" width="12.8" height="13.0" fill="#0a8eff"/>
<rect x="740.8" y="438.0" width="12.8" height="5.3" fill="#ffff00"/>
<rect x="740.8" y="443.0" width="12.8" height="2.3" fill="#ff00ff"/>
<rect x="740.8" y="445.0" width="12.8" height="13.0" fill="#0a8eff"/>
<rect x="755.6" y="397.7" width="12.8" height="22.6" fill="#ffff00"/>
<rect x="755.6" y="420.0" width="12.8" height="14.3" fill="#ff00ff"/>
<rect x="755.6" y="434.0" width="12.8" height="6.3" fill="#ff0000"/>
<rect x="755.6" y="440.0" width="12.8" height="18.0" fill="#0a8eff"/>
<rect x="770.4" y="371.0" width="12.8" height="34.3" fill="#ffff00"/>
<rect x="770.4" y="405.0" width="12.8" height="22.0" fill="#ff00ff"/>
<rect x="770.4" y="426.7" width="12.8" height="9.6" fill="#ff0000"/>
<rect x="770.4" y="436.0" width="12.8" height="22.0" fill="#0a8eff"/>
<rect x="785.2" y="327.7" width="12.8" height="55.3" fill="#ffff00"/>
<rect x="785.2" y="382.7" width="12.8" height="33.3" fill="#ff00ff"/>
<rect x="785.2" y="415.7" width="12.8" height="14.6" fill="#ff0000"/>
<rect x="785.2" y="430.0" width="12.8" height="28.0" fill="#0a8eff"/>
<rect x="800.0" y="300.0" width="12.8" height="69.3" fill="#ffff00"/>
<rect x="800.0" y="369.0" width="12.8" height="40.3" fill="#ff00ff"/>
<rect x="800.0" y="409.0" width="12.8" height="18.3" fill="#ff0000"/>
<rect x="800.0" y="427.0" width="12.8" height="31.0" fill="#0a8eff"/>
<rect x="814.8" y="320.0" width="12.8" height="39.3" fill="#ffff00"/>
<rect x="814.8" y="359.0" width="12.8" height="44.0" fill="#ff00ff"/>
<rect x="814.8" y="402.7" width="12.8" height="20.3" fill="#ff0000"/>
<rect x="814.8" y="422.7" width="12.8" height="35.3" fill="#0a8eff"/>
<rect x="829.6" y="318.0" width="12.8" height="26.3" fill="#ffff00"/>
<rect x="829.6" y="344.0" width="12.8" height="50.3" fill="#ff00ff"/>
<rect x="829.6" y="394.0" width="12.8" height="25.3" fill="#ff0000"/>
<rect x="829.6" y="419.0" width="12.8" height="39.0" fill="#0a8eff"/>
<rect x="844.4" y="335.0" width="12.8" height="54.3" fill="#ff00ff"/>
<rect x="844.4" y="389.0" width="12.8" height="28.3" fill="#ff0000"/>
<rect x="844.4" y="417.0" width="12.8" height="41.0" fill="#0a8eff"/>
<rect x="859.2" y="327.7" width="12.8" height="58.6" fill="#ff00ff"/>
<rect x="859.2" y="386.0" width="12.8" height="29.3" fill="#ff0000"/>
<rect x="859.2" y="415.0" width="12.8" height="43.0" fill="#0a8eff"/>
<rect x="874.1" y="344.7" width="12.8" height="37.3" fill="#ff00ff"/>
<rect x="874.1" y="381.7" width="12.8" height="31.3" fill="#ff0000"/>
<rect x="874.1" y="412.7" width="12.8" height="45.3" fill="#0a8eff"/>
<rect x="888.9" y="356.0" width="12.8" height="24.0" fill="#ff00ff"/>
<rect x="888.9" y="379.7" width="12.8" height="32.6" fill="#ff0000"/>
<rect x="888.9" y="412.0" width="12.8" height="46.0" fill="#0a8eff"/>
<rect x="903.7" y="375.0" width="12.8" height="4.0" fill="#ff00ff"/>
<rect x="903.7" y="378.7" width="12.8" height="33.6" fill="#ff0000"/>
<rect x="903.7" y="412.0" width="12.8" height="46.0" fill="#0a8eff"/>
<rect x="918.5" y="376.0" width="12.8" height="35.3" fill="#ff0000"/>
<rect x="918.5" y="411.0" width="12.8" height="47.0" fill="#0a8eff"/>
<rect x="933.3" y="376.0" width="12.8" height="35.3" fill="#ff0000"/>
<rect x="933.3" y="411.0" width="12.8" height="47.0" fill="#0a8eff"/>
<rect x="948.1" y="375.0" width="12.8" height="35.3" fill="#ff0000"/>
<rect x="948.1" y="410.0" width="12.8" height="48.0" fill="#0a8eff"/>
<rect x="962.9" y="374.0" width="12.8" height="36.3" fill="#ff0000"/>
<rect x="962.9" y="410.0" width="12.8" height="48.0" fill="#0a8eff"/>
<rect x="977.7" y="373.0" width="12.8" height="36.3" fill="#ff0000"/>
<rect x="977.7" y="409.0" width="12.8" height="49.0" fill="#0a8eff"/>
<rect x="992.6" y="384.0" width="12.8" height="25.3" fill="#ff0000"/>
<rect x="992.6" y="409.0" width="12.8" height="49.0" fill="#0a8eff"/>
<rect x="1007.4" y="389.7" width="12.8" height="19.6" fill="#ff0000"/>
<rect x="1007.4" y="409.0" width="12.8" height="49.0" fill="#0a8eff"/>
<rect x="1022.2" y="400.7" width="12.8" height="7.3" fill="#ff0000"/>
<rect x="1022.2" y="407.7" width="12.8" height="50.3" fill="#0a8eff"/>
<polyline shape-rendering="crispEdges" fill="none" stroke="#ff00ff" stroke-width="2.0" stroke-linejoin="round"  points="21.3,580.7 36.1,576.7 50.9,576.7 65.7,579.3 80.5,570.0 95.3,567.3 110.1,565.3 124.9,565.3 139.8,567.7 154.6,568.7 169.4,565.3 184.2,567.7 199.0,559.0 213.8,554.0 228.6,554.0 243.4,564.0 258.3,557.7 273.1,528.3 287.9,510.0 302.7,510.0 317.5,520.0 332.3,538.3 347.1,560.0 361.9,579.3 376.8,583.3 391.6,568.3 406.4,556.7 421.2,551.0 436.0,518.3 450.8,501.7 465.6,494.3 480.4,488.3 495.2,493.3 510.1,498.3 524.9,503.3 539.7,504.3 554.5,501.7 569.3,502.7 584.1,502.7 598.9,500.0 613.7,500.0 628.6,500.0 643.4,502.7 658.2,496.7 673.0,491.0 687.8,489.3 702.6,484.0 717.4,482.3 732.2,481.0 747.1,481.0 761.9,493.3 776.7,511.7 791.5,516.0 806.3,525.7 821.1,526.7 835.9,525.3 850.7,529.3 865.5,534.0 880.4,540.0 895.2,542.3 910.0,543.7 924.8,544.3 939.6,550.0 954.4,556.7 969.2,560.0 984.0,563.3 998.9,566.0 1013.7,567.3 1028.5,568.3"/>
<polyline shape-rendering="crispEdges" fill="none" stroke="#00f000" stroke-width="2.0" stroke-linejoin="round"  points="6.5,571.0 21.3,570.3 36.1,569.3 50.9,575.0 65.7,580.0 80.5,585.7 95.3,585.7 110.1,589.0 124.9,592.3 139.8,594.0 154.6,585.0 169.4,582.7 184.2,584.0 199.0,582.7 213.8,579.3 228.6,577.3 243.4,579.3 258.3,578.3 273.1,571.0 287.9,576.0 302.7,583.3 317.5,586.7 332.3,591.7 347.1,593.5 361.9,593.3 376.8,591.0 391.6,588.3 406.4,585.0 421.2,582.7 436.0,570.0 450.8,556.7 465.6,551.7 480.4,550.0 495.2,552.7 510.1,549.3 524.9,532.7 539.7,524.0 554.5,515.7 569.3,511.7 584.1,513.3 598.9,511.0 613.7,508.3 628.6,501.0 643.4,507.7 658.2,507.7 673.0,505.7 687.8,505.7 702.6,516.0 717.4,516.0 732.2,522.3 747.1,529.0 761.9,529.0 776.7,534.3 791.5,537.3 806.3,539.3 821.1,545.7 835.9,562.7 850.7,567.3 865.5,569.3 880.4,569.3 895.2,564.0 910.0,563.3 924.8,574.0 939.6,585.0 954.4,589.3 969.2,590.7 984.0,589.3 998.9,592.7 1013.7,586.0 1028.5,584.3"/>
<rect x="5.8" y="502.9" width="1.4" height="1.2" fill="#f000f0"/>
<rect x="5.7" y="537.9" width="1.4" height="1.2" fill="#ffffff"/>
<rect x="20.6" y="502.9" width="1.4" height="1.2" fill="#f000f0"/>
<rect x="20.5" y="537.9" width="1.4" height="1.2" fill="#ffffff"/>
<rect x="35.4" y="502.9" width="1.4" height="1.2" fill="#f000f0"/>
<rect x="35.3" y="537.9" width="1.4" height="1.2" fill="#ffffff"/>
<rect x="50.2" y="502.9" width="1.4" height="1.2" fill="#f000f0"/>
<rect x="50.1" y="537.9" width="1.4" height="1.2" fill="#ffffff"/>
<rect x="65.0" y="502.9" width="1.4" height="1.2" fill="#f000f0"/>
<rect x="64.9" y="537.9" width="1.4" height="1.2" fill="#ffffff"/>
<rect x="79.8" y="502.9" width="1.4" height="1.2" fill="#f000f0"/>
<rect x="79.8" y="537.9" width="1.4" height="1.2" fill="#ffffff"/>
<rect x="94.6" y="502.9" width="1.4" height="1.2" fill="#f000f0"/>
<rect x="94.6" y="537.9" width="1.4" height="1.2" fill="#ffffff"/>
<rect x="109.4" y="502.9" width="1.4" height="1.2" fill="#f000f0"/>
<rect x="109.4" y="537.9" width="1.4" height="1.2" fill="#ffffff"/>
<rect x="124.2" y="502.9" width="1.4" height="1.2" fill="#f000f0"/>
<rect x="124.2" y="537.9" width="1.4" height="1.2" fill="#ffffff"/>
<rect x="139.1" y="502.9" width="1.4" height="1.2" fill="#f000f0"/>
<rect x="139.0" y="537.9" width="1.4" height="1.2" fill="#ffffff"/>
<rect x="153.9" y="502.9" width="1.4" height="1.2" fill="#f000f0"/>
<rect x="153.8" y="537.9" width="1.4" height="1.2" fill="#ffffff"/>
<rect x="168.7" y="502.9" width="1.4" height="1.2" fill="#f000f0"/>
<rect x="168.6" y="537.9" width="1.4" height="1.2" fill="#ffffff"/>
<rect x="183.5" y="502.9" width="1.4" height="1.2" fill="#f000f0"/>
<rect x="183.4" y="537.9" width="1.4" height="1.2" fill="#ffffff"/>
<rect x="198.3" y="502.9" width="1.4" height="1.2" fill="#f000f0"/>
<rect x="198.3" y="537.9" width="1.4" height="1.2" fill="#ffffff"/>
<rect x="213.1" y="502.9" width="1.4" height="1.2" fill="#f000f0"/>
<rect x="213.1" y="537.9" width="1.4" height="1.2" fill="#ffffff"/>
<rect x="227.9" y="502.9" width="1.4" height="1.2" fill="#f000f0"/>
<rect x="227.9" y="537.9" width="1.4" height="1.2" fill="#ffffff"/>
<rect x="242.7" y="502.9" width="1.4" height="1.2" fill="#f000f0"/>
<rect x="242.7" y="537.9" width="1.4" height="1.2" fill="#ffffff"/>
<rect x="257.6" y="502.9" width="1.4" height="1.2" fill="#f000f0"/>
<rect x="257.5" y="537.9" width="1.4" height="1.2" fill="#ffffff"/>
<rect x="272.4" y="502.9" width="1.4" height="1.2" fill="#f000f0"/>
<rect x="272.3" y="537.9" width="1.4" height="1.2" fill="#ffffff"/>
<rect x="287.2" y="502.9" width="1.4" height="1.2" fill="#f000f0"/>
<rect x="287.1" y="537.9" width="1.4" height="1.2" fill="#ffffff"/>
<rect x="302.0" y="502.9" width="1.4" height="1.2" fill="#f000f0"/>
<rect x="301.9" y="537.9" width="1.4" height="1.2" fill="#ffffff"/>
<rect x="316.8" y="502.9" width="1.4" height="1.2" fill="#f000f0"/>
<rect x="316.8" y="537.9" width="1.4" height="1.2" fill="#ffffff"/>
<rect x="331.6" y="502.9" width="1.4" height="1.2" fill="#f000f0"/>
<rect x="331.6" y="537.9" width="1.4" height="1.2" fill="#ffffff"/>
<rect x="346.4" y="502.9" width="1.4" height="1.2" fill="#f000f0"/>
<rect x="346.4" y="537.9" width="1.4" height="1.2" fill="#ffffff"/>
<rect x="361.2" y="502.9" width="1.4" height="1.2" fill="#f000f0"/>
<rect x="361.2" y="537.9" width="1.4" height="1.2" fill="#ffffff"/>
<rect x="376.1" y="502.9" width="1.4" height="1.2" fill="#f000f0"/>
<rect x="376.0" y="537.9" width="1.4" height="1.2" fill="#ffffff"/>
<rect x="390.9" y="502.9" width="1.4" height="1.2" fill="#f000f0"/>
<rect x="390.8" y="537.9" width="1.4" height="1.2" fill="#ffffff"/>
<rect x="405.7" y="502.9" width="1.4" height="1.2" fill="#f000f0"/>
<rect x="405.6" y="537.9" width="1.4" height="1.2" fill="#ffffff"/>
<rect x="420.5" y="502.9" width="1.4" height="1.2" fill="#f000f0"/>
<rect x="420.4" y="537.9" width="1.4" height="1.2" fill="#ffffff"/>
<rect x="435.3" y="502.9" width="1.4" height="1.2" fill="#f000f0"/>
<rect x="435.2" y="537.9" width="1.4" height="1.2" fill="#ffffff"/>
<rect x="450.1" y="502.9" width="1.4" height="1.2" fill="#f000f0"/>
<rect x="450.1" y="537.9" width="1.4" height="1.2" fill="#ffffff"/>
<rect x="464.9" y="502.9" width="1.4" height="1.2" fill="#f000f0"/>
<rect x="464.9" y="537.9" width="1.4" height="1.2" fill="#ffffff"/>
<rect x="479.7" y="502.9" width="1.4" height="1.2" fill="#f000f0"/>
<rect x="479.7" y="537.9" width="1.4" height="1.2" fill="#ffffff"/>
<rect x="494.5" y="502.9" width="1.4" height="1.2" fill="#f000f0"/>
<rect x="494.5" y="537.9" width="1.4" height="1.2" fill="#ffffff"/>
<rect x="509.4" y="502.9" width="1.4" height="1.2" fill="#f000f0"/>
<rect x="509.3" y="537.9" width="1.4" height="1.2" fill="#ffffff"/>
<rect x="524.2" y="502.9" width="1.4" height="1.2" fill="#f000f0"/>
<rect x="524.1" y="537.9" width="1.4" height="1.2" fill="#ffffff"/>
<rect x="539.0" y="502.9" width="1.4" height="1.2" fill="#f000f0"/>
<rect x="538.9" y="537.9" width="1.4" height="1.2" fill="#ffffff"/>
<rect x="553.8" y="502.9" width="1.4" height="1.2" fill="#f000f0"/>
<rect x="553.7" y="537.9" width="1.4" height="1.2" fill="#ffffff"/>
<rect x="568.6" y="502.9" width="1.4" height="1.2" fill="#f000f0"/>
<rect x="568.6" y="537.9" width="1.4" height="1.2" fill="#ffffff"/>
<rect x="583.4" y="502.9" width="1.4" height="1.2" fill="#f000f0"/>
<rect x="583.4" y="537.9" width="1.4" height="1.2" fill="#ffffff"/>
<rect x="598.2" y="502.9" width="1.4" height="1.2" fill="#f000f0"/>
<rect x="598.2" y="537.9" width="1.4" height="1.2" fill="#ffffff"/>
<rect x="613.0" y="502.9" width="1.4" height="1.2" fill="#f000f0"/>
<rect x="613.0" y="537.9" width="1.4" height="1.2" fill="#ffffff"/>
<rect x="627.9" y="502.9" width="1.4" height="1.2" fill="#f000f0"/>
<rect x="627.8" y="537.9" width="1.4" height="1.2" fill="#ffffff"/>
<rect x="642.7" y="502.9" width="1.4" height="1.2" fill="#f000f0"/>
<rect x="642.6" y="537.9" width="1.4" height="1.2" fill="#ffffff"/>
<rect x="657.5" y="502.9" width="1.4" height="1.2" fill="#f000f0"/>
<rect x="657.4" y="537.9" width="1.4" height="1.2" fill="#ffffff"/>
<rect x="672.3" y="502.9" width="1.4" height="1.2" fill="#f000f0"/>
<rect x="672.2" y="537.9" width="1.4" height="1.2" fill="#ffffff"/>
<rect x="687.1" y="502.9" width="1.4" height="1.2" fill="#f000f0"/>
<rect x="687.1" y="537.9" width="1.4" height="1.2" fill="#ffffff"/>
<rect x="701.9" y="502.9" width="1.4" height="1.2" fill="#f000f0"/>
<rect x="701.9" y="537.9" width="1.4" height="1.2" fill="#ffffff"/>
<rect x="716.7" y="502.9" width="1.4" height="1.2" fill="#f000f0"/>
<rect x="716.7" y="537.9" width="1.4" height="1.2" fill="#ffffff"/>
<rect x="731.5" y="502.9" width="1.4" height="1.2" fill="#f000f0"/>
<rect x="731.5" y="537.9" width="1.4" height="1.2" fill="#ffffff"/>
<rect x="746.4" y="502.9" width="1.4" height="1.2" fill="#f000f0"/>
<rect x="746.3" y="537.9" width="1.4" height="1.2" fill="#ffffff"/>
<rect x="761.2" y="502.9" width="1.4" height="1.2" fill="#f000f0"/>
<rect x="761.1" y="537.9" width="1.4" height="1.2" fill="#ffffff"/>
<rect x="776.0" y="502.9" width="1.4" height="1.2" fill="#f000f0"/>
<rect x="775.9" y="537.9" width="1.4" height="1.2" fill="#ffffff"/>
<rect x="790.8" y="502.9" width="1.4" height="1.2" fill="#f000f0"/>
<rect x="790.7" y="537.9" width="1.4" height="1.2" fill="#ffffff"/>
<rect x="805.6" y="502.9" width="1.4" height="1.2" fill="#f000f0"/>
<rect x="805.5" y="537.9" width="1.4" height="1.2" fill="#ffffff"/>
<rect x="820.4" y="502.9" width="1.4" height="1.2" fill="#f000f0"/>
<rect x="820.4" y="537.9" width="1.4" height="1.2" fill="#ffffff"/>
<rect x="835.2" y="502.9" width="1.4" height="1.2" fill="#f000f0"/>
<rect x="835.2" y="537.9" width="1.4" height="1.2" fill="#ffffff"/>
<rect x="850.0" y="502.9" width="1.4" height="1.2" fill="#f000f0"/>
<rect x="850.0" y="537.9" width="1.4" height="1.2" fill="#ffffff"/>
<rect x="864.8" y="502.9" width="1.4" height="1.2" fill="#f000f0"/>
<rect x="864.8" y="537.9" width="1.4" height="1.2" fill="#ffffff"/>
<rect x="879.7" y="502.9" width="1.4" height="1.2" fill="#f000f0"/>
<rect x="879.6" y="537.9" width="1.4" height="1.2" fill="#ffffff"/>
<rect x="894.5" y="502.9" width="1.4" height="1.2" fill="#f000f0"/>
<rect x="894.4" y="537.9" width="1.4" height="1.2" fill="#ffffff"/>
<rect x="909.3" y="502.9" width="1.4" height="1.2" fill="#f000f0"/>
<rect x="909.2" y="537.9" width="1.4" height="1.2" fill="#ffffff"/>
<rect x="924.1" y="502.9" width="1.4" height="1.2" fill="#f000f0"/>
<rect x="924.0" y="537.9" width="1.4" height="1.2" fill="#ffffff"/>
<rect x="938.9" y="502.9" width="1.4" height="1.2" fill="#f000f0"/>
<rect x="938.9" y="537.9" width="1.4" height="1.2" fill="#ffffff"/>
<rect x="953.7" y="502.9" width="1.4" height="1.2" fill="#f000f0"/>
<rect x="953.7" y="537.9" width="1.4" height="1.2" fill="#ffffff"/>
<rect x="968.5" y="502.9" width="1.4" height="1.2" fill="#f000f0"/>
<rect x="968.5" y="537.9" width="1.4" height="1.2" fill="#ffffff"/>
<rect x="983.3" y="502.9" width="1.4" height="1.2" fill="#f000f0"/>
<rect x="983.3" y="537.9" width="1.4" height="1.2" fill="#ffffff"/>
<rect x="998.2" y="502.9" width="1.4" height="1.2" fill="#f000f0"/>
<rect x="998.1" y="537.9" width="1.4" height="1.2" fill="#ffffff"/>
<rect x="1013.0" y="502.9" width="1.4" height="1.2" fill="#f000f0"/>
<rect x="1012.9" y="537.9" width="1.4" height="1.2" fill="#ffffff"/>
<rect x="1027.8" y="502.9" width="1.4" height="1.2" fill="#f000f0"/>
<rect x="1027.7" y="537.9" width="1.4" height="1.2" fill="#ffffff"/>
<polyline shape-rendering="crispEdges" fill="none" stroke="#0000ff" stroke-width="2.0" stroke-linejoin="round"  points="6.5,581.7 21.3,581.7 36.1,581.7 50.9,582.5 65.7,582.5 80.5,581.7 95.3,581.7 110.1,581.7 124.9,581.7 139.8,582.5 154.6,582.5 169.4,582.5 184.2,582.5 199.0,581.7 213.8,581.7 228.6,581.7 243.4,581.7 258.3,581.7 273.1,581.7 287.9,581.7 302.7,581.7 317.5,581.7 332.3,581.7 347.1,581.7 361.9,581.7 376.8,581.7 391.6,581.7 406.4,581.7 421.2,581.7 436.0,580.5 450.8,579.0 465.6,578.4 480.4,577.8 495.2,577.3 510.1,576.9 524.9,576.4 539.7,576.0 554.5,575.5 569.3,575.0 584.1,574.7 598.9,574.7 613.7,574.7 628.6,577.3 643.4,579.3 658.2,580.7 673.0,580.7 687.8,580.7 702.6,579.0 717.4,578.7 732.2,578.7 747.1,578.7 761.9,564.0 776.7,555.0 791.5,546.0 806.3,541.7 821.1,536.7 835.9,533.3 850.7,531.0 865.5,529.3 880.4,528.3 895.2,527.7 910.0,527.7 924.8,526.0 939.6,526.0 954.4,530.0 969.2,531.7 984.0,537.3 998.9,541.0 1013.7,545.0 1028.5,550.7"/>
<polyline shape-rendering="crispEdges" fill="none" stroke="#ff0000" stroke-width="2.0" stroke-linejoin="round"  points="6.5,607.7 21.3,606.0 36.1,604.3 50.9,605.7 65.7,605.7 80.5,601.7 95.3,601.7 110.1,601.7 124.9,602.7 139.8,602.7 154.6,602.7 169.4,601.0 184.2,602.3 199.0,600.3 213.8,600.3 228.6,601.7 243.4,605.0 258.3,602.7 273.1,598.3 287.9,598.3 302.7,600.7 317.5,601.7 332.3,604.3 347.1,606.0 361.9,608.3 376.8,608.3 391.6,605.0 406.4,605.0 421.2,603.3 436.0,596.7 450.8,592.3 465.6,591.0 480.4,589.3 495.2,592.3 510.1,593.3 524.9,593.3 539.7,592.7 554.5,592.0 569.3,592.3 584.1,592.3 598.9,591.3 613.7,592.3 628.6,592.3 643.4,592.3 658.2,591.3 673.0,590.0 687.8,590.0 702.6,575.0 717.4,560.0 732.2,546.0 747.1,531.7 761.9,550.0 776.7,566.7 791.5,559.0 806.3,569.0 821.1,565.0 835.9,561.7 850.7,568.3 865.5,571.7 880.4,575.7 895.2,574.3 910.0,574.3 924.8,573.3 939.6,575.7 954.4,576.7 969.2,577.3 984.0,578.3 998.9,578.7 1013.7,580.0 1028.5,581.0"/>
<line x1="6.3" y1="561.5" x2="1028.8" y2="561.5" stroke="#949494" stroke-width="1.2"/>
<line x1="6.3" y1="573.4" x2="1028.8" y2="573.4" stroke="#949494" stroke-width="1.2"/>
<rect x="0" y="0.9" width="1035" height="1.3" fill="#c00000"/>
<rect x="22.6" y="0" width="1.1" height="1" fill="#e00000"/>
<rect x="816.0" y="0" width="1.1" height="1" fill="#e00000"/>
<rect x="850.0" y="0" width="1.1" height="1" fill="#e00000"/>
<rect x="885.0" y="0" width="1.1" height="1" fill="#e00000"/>
<rect x="919.8" y="0" width="1.1" height="1" fill="#e00000"/>
<rect x="955.0" y="0" width="1.1" height="1" fill="#e00000"/>
<rect x="990.0" y="0" width="1.1" height="1" fill="#e00000"/>
<rect x="1025.2" y="0" width="1.1" height="1" fill="#e00000"/>
<rect x="0" y="280.1" width="1035" height="1.05" fill="#c00000"/>
<rect x="0" y="459.9" width="1035" height="1.05" fill="#c00000"/>
<rect x="0" y="612.1" width="1035" height="1.3" fill="#c80000"/>
<rect x="227.1" y="610.9" width="1" height="1.4" fill="#d00000"/>
<rect x="289.8" y="610.9" width="1" height="1.4" fill="#d00000"/>
<rect x="352.4" y="610.9" width="1" height="1.4" fill="#d00000"/>
<rect x="415.8" y="610.9" width="1" height="1.4" fill="#d00000"/>
<rect x="478.6" y="610.9" width="1" height="1.4" fill="#d00000"/>
<rect x="560.3" y="610.9" width="1" height="1.4" fill="#d00000"/>
<rect x="641.9" y="610.9" width="1" height="1.4" fill="#d00000"/>
<rect x="723.6" y="610.9" width="1" height="1.4" fill="#d00000"/>
<rect x="805.1" y="610.9" width="1" height="1.4" fill="#d00000"/>
<rect x="885.1" y="610.9" width="1" height="1.4" fill="#d00000"/>
<rect x="962.6" y="610.9" width="1" height="1.4" fill="#d00000"/>
<rect x="885.6" y="612.1" width="77" height="1.3" fill="#28109a"/>
<text x="3.6" y="16.0" fill="#d0d0d0" font-family="Liberation Sans, Noto Sans CJK SC, sans-serif" font-size="12.2" textLength="79.6" lengthAdjust="spacingAndGlyphs">四环生物(日线)</text>
<circle cx="95.0" cy="10.6" r="5.9" fill="#808080"/>
<path d="M91.9 9.5 l3.1 3 l3.1 -3" fill="none" stroke="#202020" stroke-width="1.3"/>
<text x="104.5" y="16.0" fill="#d0d0d0" font-family="Liberation Sans, Noto Sans CJK SC, sans-serif" font-size="12.2" textLength="48.2" lengthAdjust="spacingAndGlyphs">捉妖主图</text>
<text x="158.0" y="16.0" fill="#ffff00" font-family="Liberation Sans, Noto Sans CJK SC, sans-serif" font-size="12.2" textLength="51.5" lengthAdjust="spacingAndGlyphs"><tspan dy="-1.0">AAK: 3.80</tspan></text>
<text x="215.0" y="16.0" fill="#ffff00" font-family="Liberation Sans, Noto Sans CJK SC, sans-serif" font-size="12.2" textLength="50.4" lengthAdjust="spacingAndGlyphs"><tspan dy="-1.0">AAA: 3.80</tspan></text>
<text x="271.0" y="16.0" fill="#00f000" font-family="Liberation Sans, Noto Sans CJK SC, sans-serif" font-size="12.2" textLength="53.0" lengthAdjust="spacingAndGlyphs">观望<tspan dy="-1.0">: 3.80</tspan></text>
<circle cx="8.2" cy="289.1" r="5.9" fill="#808080"/>
<path d="M5.1 288.0 l3.1 3 l3.1 -3" fill="none" stroke="#202020" stroke-width="1.3"/>
<text x="17.8" y="293.6" fill="#d0d0d0" font-family="Liberation Sans, Noto Sans CJK SC, sans-serif" font-size="12.2" textLength="71.5" lengthAdjust="spacingAndGlyphs">一飞冲天副图</text>
<text x="95.0" y="293.6" fill="#ffff00" font-family="Liberation Sans, Noto Sans CJK SC, sans-serif" font-size="12.2" textLength="112.3" lengthAdjust="spacingAndGlyphs">牛股启动<tspan dy="-1.0">: 281378.22</tspan></text>
<text x="213.3" y="293.6" fill="#ff00ff" font-family="Liberation Sans, Noto Sans CJK SC, sans-serif" font-size="12.2" textLength="111.7" lengthAdjust="spacingAndGlyphs">一飞冲天<tspan dy="-1.0">: 377880.69</tspan></text>
<text x="331.0" y="293.6" fill="#ff0000" font-family="Liberation Sans, Noto Sans CJK SC, sans-serif" font-size="12.2" textLength="112.3" lengthAdjust="spacingAndGlyphs"><tspan dy="-1.0">EWWW1: 700464.19</tspan></text>
<text x="449.0" y="293.6" fill="#00ecec" font-family="Liberation Sans, Noto Sans CJK SC, sans-serif" font-size="12.2" textLength="103.3" lengthAdjust="spacingAndGlyphs"><tspan dy="-1.0">XFDD1: 604684.00</tspan></text>
<text x="558.3" y="293.6" fill="#ffff00" font-family="Liberation Sans, Noto Sans CJK SC, sans-serif" font-size="12.2" textLength="84.0" lengthAdjust="spacingAndGlyphs"><tspan dy="-1.0">EWWW2: 14.32</tspan></text>
<text x="648.3" y="293.6" fill="#ff00ff" font-family="Liberation Sans, Noto Sans CJK SC, sans-serif" font-size="12.2" textLength="120.0" lengthAdjust="spacingAndGlyphs">一飞冲天参与比<tspan dy="-1.0">: 19.24</tspan></text>
<text x="773.3" y="293.6" fill="#ff0000" font-family="Liberation Sans, Noto Sans CJK SC, sans-serif" font-size="12.2" textLength="85.0" lengthAdjust="spacingAndGlyphs"><tspan dy="-1.0">VDSSSS: 35.66</tspan></text>
<text x="864.0" y="293.6" fill="#00ecec" font-family="Liberation Sans, Noto Sans CJK SC, sans-serif" font-size="12.2" textLength="82.0" lengthAdjust="spacingAndGlyphs"><tspan dy="-1.0">VDSSAA: 30.78</tspan></text>
<text x="951.7" y="293.6" fill="#ff00ff" font-family="Liberation Sans, Noto Sans CJK SC, sans-serif" font-size="12.2" textLength="87.1" lengthAdjust="spacingAndGlyphs"><tspan dy="-1.0">XFDD2: 198188</tspan></text>
<circle cx="8.2" cy="469.1" r="5.9" fill="#808080"/>
<path d="M5.1 468.0 l3.1 3 l3.1 -3" fill="none" stroke="#202020" stroke-width="1.3"/>
<text x="17.8" y="474.0" fill="#d0d0d0" font-family="Liberation Sans, Noto Sans CJK SC, sans-serif" font-size="12.2" textLength="71.5" lengthAdjust="spacingAndGlyphs">主力进场加仓</text>
<text x="95.0" y="474.0" fill="#ff00ff" font-family="Liberation Sans, Noto Sans CJK SC, sans-serif" font-size="12.2" textLength="107.7" lengthAdjust="spacingAndGlyphs">主力进场加仓<tspan dy="-1.0">: 23.67</tspan></text>
<text x="209.3" y="474.0" fill="#00f000" font-family="Liberation Sans, Noto Sans CJK SC, sans-serif" font-size="12.2" textLength="84.0" lengthAdjust="spacingAndGlyphs">指标源码<tspan dy="-1.0">: 10.10</tspan></text>
<text x="299.0" y="474.0" fill="#00f000" font-family="Liberation Sans, Noto Sans CJK SC, sans-serif" font-size="12.2" textLength="89.3" lengthAdjust="spacingAndGlyphs"><tspan dy="-1.0">WDDCS1: 20.00</tspan></text>
<text x="394.3" y="474.0" fill="#f0f0f0" font-family="Liberation Sans, Noto Sans CJK SC, sans-serif" font-size="12.2" textLength="89.0" lengthAdjust="spacingAndGlyphs"><tspan dy="-1.0">WDDCS2: 50.00</tspan></text>
<text x="489.0" y="474.0" fill="#ff00ff" font-family="Liberation Sans, Noto Sans CJK SC, sans-serif" font-size="12.2" textLength="89.3" lengthAdjust="spacingAndGlyphs"><tspan dy="-1.0">WDDCS3: 80.00</tspan></text>
<text x="584.0" y="474.0" fill="#0000ff" font-family="Liberation Sans, Noto Sans CJK SC, sans-serif" font-size="12.2" textLength="89.3" lengthAdjust="spacingAndGlyphs"><tspan dy="-1.0">WDDCS5: 38.99</tspan></text>
<text x="679.3" y="474.0" fill="#ff0000" font-family="Liberation Sans, Noto Sans CJK SC, sans-serif" font-size="12.2" textLength="89.0" lengthAdjust="spacingAndGlyphs"><tspan dy="-1.0">WDDCS6: 13.05</tspan></text>
<text x="773.3" y="474.0" fill="#a0a0a0" font-family="Liberation Sans, Noto Sans CJK SC, sans-serif" font-size="12.2" textLength="90.0" lengthAdjust="spacingAndGlyphs"><tspan dy="-1.0">WDDCS7: 20.00</tspan></text>
<text x="869.0" y="474.0" fill="#a0a0a0" font-family="Liberation Sans, Noto Sans CJK SC, sans-serif" font-size="12.2" textLength="89.3" lengthAdjust="spacingAndGlyphs"><tspan dy="-1.0">WDDCS8: 30.00</tspan></text>
<g fill="#fff" stroke="#000" stroke-width="1.3" font-family="DejaVu Sans, Liberation Sans, sans-serif" font-weight="bold" font-size="37.2"><text transform="translate(37.6 46.5) scale(1.22 1)">6</text><text transform="translate(66.6 46.5) scale(1.00 1)">o</text><text transform="translate(88.2 46.5) scale(1.24 1)">7</text><text transform="translate(115.3 46.5) scale(1.00 1)">o</text><text transform="translate(135.6 46.5) scale(1.35 1)">.</text><text transform="translate(146.8 46.5) scale(1.13 1)">c</text><text transform="translate(166.8 46.5) scale(1.00 1)">o</text><text transform="translate(189.3 46.5) scale(0.93 1)">m</text></g>
</svg>
</body></html>
